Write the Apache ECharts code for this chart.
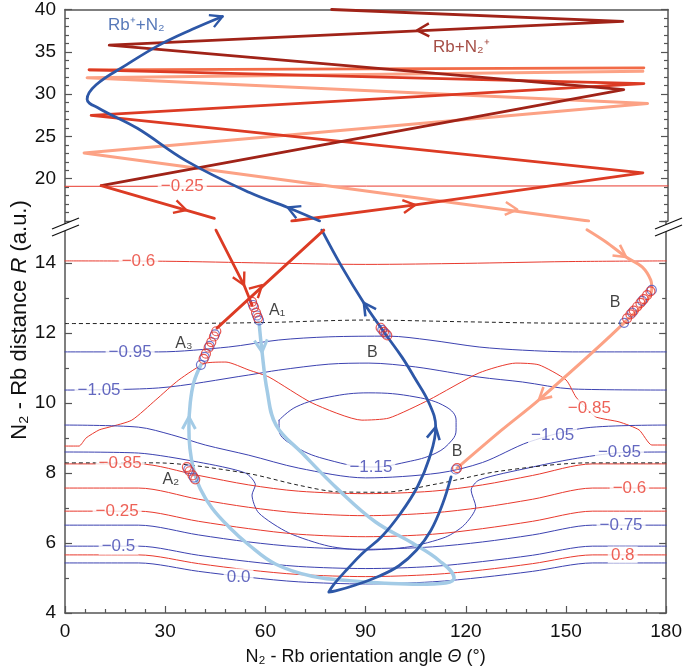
<!DOCTYPE html>
<html>
<head>
<meta charset="utf-8">
<script src="https://cdn.jsdelivr.net/npm/echarts@6/dist/echarts.min.js"></script>
<style>
  html, body { margin: 0; background: #fff; }
  #chart { width: 685px; height: 672px; }
</style>
</head>
<body>
<div id="chart"></div>
<script>
// all points are [theta (deg), R (a.u.)]

// --- trajectories, upper panel (R > 15) ---
const blueUp = [[76.0,15.0],[66.5,16.6],[55.1,18.36],[36.2,22.11],[21.6,25.96],[10.2,28.3],[6.6,29.4],[9.3,31.11],[18.3,33.45],[28.1,35.79],[38.0,37.66],[47.0,39.18]];
const maroonUp = [[79.6,40],[166.5,38.6],[13.2,35.79],[166.8,30.53],[10.8,19.18]];
const redInUp = [[10.8,19.18],[44.6,15.32]];
const redOutUp = [[67.7,15.0],[104.5,16.9],[172.5,20.7],[7.8,27.49],[172.8,31.23],[7.2,32.87]];
const orangeUp = [[7.2,32.87],[172.8,33.1]];
const salmonUp = [[172.5,32.7],[6.6,31.93],[173.9,28.89],[5.7,23.04],[156.3,15.0]];

// --- trajectories, lower panel ---
const redInLow = [[45.2,14.94],[53.6,13.37],[56.0,12.8]];
const redOutLow = [[45.5,12.14],[77.5,14.94]];
const lightBlueLow = [[58.1,12.31],[59.0,11.46],[60.5,10.37],[63.2,9.37],[71.0,8.57],[82.0,7.51],[93,6.6],[104,6.0],[112,5.5],[116.5,5.0],[114,4.86],[106,4.82],[96,4.85],[88,4.9],[74,5.05],[63,5.4],[55,5.95],[49.1,6.46],[44,7.0],[40.5,7.55],[38.5,8.1],[37.4,8.7],[37.1,9.3],[37.5,10.0],[38.6,10.6],[40.7,11.09]];
const darkBlueLow = [[115.6,7.89],[113,7.1],[109.5,6.35],[105.3,5.8],[100,5.35],[94,5.05],[87,4.8],[81,4.63],[79,4.6],[80.5,4.82],[84.5,5.25],[89,5.7],[95,6.2],[100.5,6.85],[105.5,7.6],[109,8.4],[111,9.31],[109,10.0],[104.5,10.75],[100.9,11.31],[95.5,12.03],[89.5,12.86],[82.9,13.89],[76.9,14.94]];
const salmonLow = [[156.3,14.95],[162,14.6],[168,14.17],[172.8,13.89],[175.4,13.51],[175.7,13.25],[167.4,12.29],[141.9,10.09],[130.8,9.23],[117.4,8.14]];

// --- arrow heads: [tip theta, tip R, behind theta, behind R] ---
const arrowsBlueUp = [[66.5,16.6,76.0,15.0],[47.0,39.18,38.0,37.66]];
const arrowsMaroonUp = [[105.1,37.54,124,37.8]];
const arrowsRedUp = [[36.2,16.3,10.8,19.18],[104.5,16.9,67.7,15.0]];
const arrowsSalmonUp = [[135,16.35,124,16.75]];
const arrowsRedLow = [[53.6,13.37,45.2,14.94],[59.0,13.37,45.5,12.14]];
const arrowsLightLow = [[59.0,11.46,58.1,12.31],[37.1,9.6,37.1,8.94]];
const arrowsDarkLow = [[111.0,9.31,109,8.4],[89.5,12.86,95.5,12.03]];
const arrowsSalmonLow = [[168,14.17,156.3,14.95],[141.9,10.09,167.4,12.29]];

// --- potential contours ---
const cRedUp = [[0,19.1],[180,19.15]];
const cRedTop = [[0,14.06],[30,14.05],[60,14.0],[90,13.96],[120,13.99],[150,14.04],[180,14.06]];
const cDash1 = [[0,12.27],[30,12.27],[60,12.3],[90,12.37],[120,12.32],[150,12.28],[180,12.28]];
const cBlue095a = [[0,11.46],[28,11.46],[49,11.6],[64,11.8],[79,11.89],[97,11.91],[109,11.8],[124,11.6],[137,11.51],[152,11.46],[180,11.46]];
const cBlue105a = [[0,10.37],[28,10.43],[55,10.8],[64,10.94],[79,11.11],[91,11.14],[105,11.03],[124,10.74],[137,10.6],[152,10.4],[180,10.37]];
const cRedWave = [[0,8.77],[4.2,8.77],[6.3,9.0],[10.2,9.23],[13.2,9.31],[20,9.51],[27.2,10.09],[34.1,10.66],[42.2,11.14],[48.2,11.17],[55.1,10.94],[61.1,10.74],[74,10.0],[88.9,9.51],[97,9.57],[109,10.09],[124,10.86],[135,11.14],[141.9,11.09],[150,10.66],[153,10.17],[156,9.86],[159,9.6],[165.9,9.46],[171.9,9.23],[175.7,8.8],[180,8.8]];
const cOval = [[64.1,9.51],[69.2,9.89],[79,10.17],[91,10.29],[105.1,10.17],[114.1,9.89],[117.1,9.51],[117.1,9.23],[115.9,8.94],[111.1,8.57],[102.1,8.31],[91.9,8.17],[79,8.37],[69.2,8.74],[64.1,9.23],[64.1,9.51]];
const cBlue105b = [[0,9.37],[22,9.31],[32,9.09],[42,8.8],[55,8.51],[70,8.14],[90,7.86],[112,8.0],[125,8.3],[139,8.89],[156,9.29],[180,9.37]];
const cBlue095b = [[0,8.6],[22,8.57],[40,8.31],[54,8.0],[57,7.66],[56,7.37],[58,6.86],[67,6.29],[79,5.91],[90,5.8],[103,5.89],[114,6.17],[119.5,6.51],[123,7.03],[121.6,7.51],[124,7.8],[139,8.15],[152,8.4],[166,8.58],[180,8.6]];
const cDash2 = [[0,8.29],[27,8.29],[54,8.0],[70,7.65],[82,7.46],[95,7.45],[112,7.7],[130,8.05],[157,8.29],[180,8.29]];
const cRed826 = [[0,8.26],[22,8.26],[40,7.93],[55,7.66],[70,7.48],[90,7.41],[110,7.48],[125,7.66],[140,7.93],[158,8.26],[180,8.26]];
const cRed757 = [[0,7.57],[22,7.57],[40,7.25],[55,7.02],[70,6.86],[90,6.78],[110,6.86],[125,7.02],[140,7.25],[158,7.57],[180,7.57]];
const cRed691 = [[0,6.91],[22,6.91],[40,6.62],[55,6.41],[70,6.25],[90,6.18],[110,6.25],[125,6.41],[140,6.62],[158,6.91],[180,6.91]];
const cBlue651 = [[0,6.51],[22,6.51],[40,6.23],[55,6.03],[70,5.89],[90,5.82],[110,5.89],[125,6.03],[140,6.23],[158,6.51],[180,6.51]];
const cBlue591 = [[0,5.91],[22,5.91],[40,5.65],[55,5.47],[70,5.33],[90,5.27],[110,5.33],[125,5.47],[140,5.65],[158,5.91],[180,5.91]];
const cRed566 = [[0,5.66],[22,5.66],[40,5.41],[55,5.23],[70,5.1],[90,5.04],[110,5.1],[125,5.23],[140,5.41],[158,5.66],[180,5.66]];
const cBlue543 = [[0,5.43],[22,5.43],[40,5.19],[55,5.02],[70,4.89],[90,4.83],[110,4.89],[125,5.02],[140,5.19],[158,5.43],[180,5.43]];

// contour labels [text, theta, R]
const redLabelsUp = [['−0.25',35,19.1]];
const redLabels = [['−0.6',22,14.05],['−0.85',16.5,8.27],['−0.25',15.6,6.91],['−0.85',157,9.86],['−0.6',169,7.57],['0.8',167,5.66]];
const blueLabels = [['−0.95',19.5,11.46],['−1.05',10.2,10.37],['−0.5',16,5.91],['0.0',52,5.03],['−1.15',91.6,8.17],['−1.05',146,9.08],['−0.95',166,8.58],['−0.75',166.5,6.51]];

// charge-transfer points (open circles)
const redCircles = [[41.5,11.26],[42.2,11.41],[43.0,11.58],[43.8,11.74],[44.6,11.9],[45.3,12.05],
  [56.0,12.89],[56.6,12.74],[57.2,12.58],[57.8,12.43],
  [36.5,8.17],[37.3,8.05],[38.2,7.93],[39.0,7.82],
  [94.5,12.15],[95.5,12.03],[96.5,11.93],
  [117.4,8.14],
  [168.3,12.42],[169.3,12.53],[170.3,12.64],[171.3,12.75],[172.3,12.86],[173.3,12.97],[174.3,13.08],[175.3,13.19]];
const blueCircles = [[40.7,11.09],[41.8,11.32],[43.3,11.63],[44.9,11.96],
  [56.3,12.8],[57.5,12.5],[58.1,12.36],
  [36.9,8.1],[38.6,7.87],
  [95.0,12.09],[96.0,11.98],
  [117.0,8.1],
  [167.4,12.29],[169.8,12.58],[172.8,12.92],[175.7,13.23]];

// point names [text, theta, R]
const pointNames = [['A₁',63.5,12.63],['A₃',35.6,11.71],['A₂',31.7,7.8],['B',92,11.43],['B',117.4,8.62],['B',164.7,12.86]];

const F = '"Liberation Sans", Arial, Helvetica, sans-serif';
const AXC = '#555';
const C = {
  darkBlue: '#2d57a7', lightBlue: '#a3cbe6', maroon: '#a02318', red: '#dc3b24',
  orange: '#f26b47', salmon: '#fca285', cRed: '#e8392d', cBlue: '#3c42b0'
};

function axes(g) { return g === 0 ? { xAxisIndex: 0, yAxisIndex: 0 } : { xAxisIndex: 1, yAxisIndex: 2 }; }

function line(g, data, color, width, extra) {
  return Object.assign({
    type: 'line', data: data, showSymbol: false, symbol: 'none', silent: true, z: 4,
    lineStyle: { color: color, width: width, join: 'round', cap: 'round' }
  }, axes(g), extra || {});
}

function contour(g, data, color, extra) {
  return line(g, data, color, 1, Object.assign({ smooth: 0.3, z: 2 }, extra || {}));
}

function arrows(g, data, color, width) {
  return Object.assign({
    type: 'custom', data: data, silent: true, z: 4, encode: { x: 0, y: 1 },
    renderItem: function (params, api) {
      const tip = api.coord([api.value(0), api.value(1)]);
      const back = api.coord([api.value(2), api.value(3)]);
      let dx = tip[0] - back[0], dy = tip[1] - back[1];
      const len = Math.hypot(dx, dy) || 1;
      dx /= len; dy /= len;
      const L = 12, W = 6.5;
      const bx = tip[0] - dx * L, by = tip[1] - dy * L;
      return {
        type: 'polyline',
        shape: { points: [[bx - dy * W, by + dx * W], tip, [bx + dy * W, by - dx * W]] },
        style: { stroke: color, lineWidth: width, fill: null, lineJoin: 'round' }
      };
    }
  }, axes(g));
}

function labels(g, items, color, size, bg) {
  return Object.assign({
    type: 'scatter', silent: true, z: bg ? 3 : 6, symbolSize: 1,
    itemStyle: { color: 'rgba(0,0,0,0)' },
    data: items.map(d => ({ name: d[0], value: [d[1], d[2]] })),
    label: {
      show: true, position: 'inside', formatter: '{b}', color: color,
      fontSize: size, fontFamily: F,
      backgroundColor: bg ? '#fff' : 'transparent', padding: bg ? [0, 3] : 0
    }
  }, axes(g));
}

function circles(data, color) {
  return Object.assign({
    type: 'scatter', data: data, silent: true, z: 5, symbol: 'circle', symbolSize: 9,
    itemStyle: { color: 'rgba(0,0,0,0)', borderColor: color, borderWidth: 1.2 }
  }, axes(1));
}

const tickStyle = { lineStyle: { color: AXC, width: 1.2 } };

function yAxis(grid, min, max, interval, minorSplit, pos, fmt) {
  return {
    type: 'value', gridIndex: grid, min: min, max: max, interval: interval, position: pos,
    axisLine: { show: true, lineStyle: { color: AXC, width: 1.5 } },
    axisTick: Object.assign({ show: true, inside: true, length: 7 }, tickStyle),
    minorTick: Object.assign({ show: true, splitNumber: minorSplit, length: 4 }, tickStyle),
    splitLine: { show: false }, minorSplitLine: { show: false },
    axisLabel: fmt ? { show: true, formatter: fmt, fontSize: 19, color: '#111', fontFamily: F, margin: 9 } : { show: false }
  };
}

function nameStyle(size) {
  return {
    fontSize: size, color: '#111', fontFamily: F,
    rich: { i: { fontStyle: 'italic', fontSize: size, color: '#111', fontFamily: F } }
  };
}

const chart = echarts.init(document.getElementById('chart'));
chart.setOption({
  animation: false,
  backgroundColor: '#fff',
  grid: [
    { left: 65, right: 17, top: 7, height: 214 },
    { left: 65, right: 17, top: 221, height: 392 },
    { left: 65, right: 17, top: 27, height: 586 }
  ],
  xAxis: [
    { type: 'value', gridIndex: 0, min: 0, max: 180, position: 'top',
      axisLine: { show: true, lineStyle: { color: AXC, width: 1.5 } },
      axisTick: { show: false }, axisLabel: { show: false }, splitLine: { show: false } },
    { type: 'value', gridIndex: 1, min: 0, max: 180, interval: 30, position: 'bottom',
      axisLine: { show: true, lineStyle: { color: AXC, width: 1.5 } },
      axisTick: Object.assign({ show: true, inside: true, length: 7 }, tickStyle),
      minorTick: Object.assign({ show: true, splitNumber: 5, length: 4 }, tickStyle),
      splitLine: { show: false },
      axisLabel: { fontSize: 19, color: '#111', fontFamily: F, margin: 9 },
      name: 'N₂ - Rb orientation angle {i|Θ} (°)', nameLocation: 'middle', nameGap: 35,
      nameTextStyle: nameStyle(18) },
    { type: 'value', gridIndex: 2, show: false, min: 0, max: 1 }
  ],
  yAxis: [
    yAxis(0, 15, 40, 5, 5, 'left', v => (v >= 20 ? String(v) : '')),
    yAxis(0, 15, 40, 5, 5, 'right', null),
    yAxis(1, 4, 15.2, 2, 2, 'left', v => (v <= 14 && v % 2 === 0 ? String(v) : '')),
    yAxis(1, 4, 15.2, 2, 2, 'right', null),
    { type: 'value', gridIndex: 2, min: 0, max: 1,
      axisLine: { show: false }, axisTick: { show: false }, axisLabel: { show: false }, splitLine: { show: false },
      name: 'N₂ - Rb distance {i|R} (a.u.)', nameLocation: 'middle', nameGap: 34, nameTextStyle: nameStyle(22) }
  ],
  series: [
    // contours
    contour(0, cRedUp, C.cRed, { smooth: false }),
    contour(1, cRedTop, C.cRed),
    contour(1, cBlue095a, C.cBlue),
    contour(1, cBlue105a, C.cBlue),
    contour(1, cRedWave, C.cRed, { smooth: 0.2 }),
    contour(1, cOval, C.cBlue, { smooth: 0.4 }),
    contour(1, cBlue105b, C.cBlue),
    contour(1, cBlue095b, C.cBlue, { smooth: 0.25 }),
    contour(1, cRed826, C.cRed),
    contour(1, cRed757, C.cRed),
    contour(1, cRed691, C.cRed),
    contour(1, cBlue651, C.cBlue),
    contour(1, cBlue591, C.cBlue),
    contour(1, cRed566, C.cRed),
    contour(1, cBlue543, C.cBlue),
    line(1, cDash1, '#222', 1, { smooth: 0.3, z: 2, lineStyle: { color: '#222', width: 1, type: [4, 3] } }),
    line(1, cDash2, '#222', 1, { smooth: 0.3, z: 2, lineStyle: { color: '#222', width: 1, type: [4, 3] } }),
    labels(0, redLabelsUp, C.cRed, 17, true),
    labels(1, redLabels, C.cRed, 17, true),
    labels(1, blueLabels, C.cBlue, 17, true),

    // trajectories, upper panel
    line(0, salmonUp, C.salmon, 3),
    line(0, orangeUp, C.orange, 2.8),
    line(0, redOutUp, C.red, 2.8),
    line(0, maroonUp, C.maroon, 2.8),
    line(0, redInUp, C.red, 2.8),
    line(0, blueUp, C.darkBlue, 2.8, { smooth: 0.4 }),
    arrows(0, arrowsSalmonUp, C.salmon, 2.4),
    arrows(0, arrowsRedUp, C.red, 2.4),
    arrows(0, arrowsMaroonUp, C.maroon, 2.4),
    arrows(0, arrowsBlueUp, C.darkBlue, 2.4),

    // trajectories, lower panel
    line(1, lightBlueLow, C.lightBlue, 3.5, { smooth: 0.4 }),
    line(1, salmonLow, C.salmon, 3, { smooth: 0.3 }),
    line(1, darkBlueLow, C.darkBlue, 2.8, { smooth: 0.4 }),
    line(1, redInLow, C.red, 2.8),
    line(1, redOutLow, C.red, 2.8),
    arrows(1, arrowsLightLow, C.lightBlue, 3),
    arrows(1, arrowsSalmonLow, C.salmon, 2.6),
    arrows(1, arrowsDarkLow, C.darkBlue, 2.6),
    arrows(1, arrowsRedLow, C.red, 2.4),

    circles(blueCircles, '#4a55c0'),
    circles(redCircles, '#e0302a'),
    labels(1, pointNames, '#111', 16, false),
    labels(0, [['Rb⁺+N₂', 21.3, 38.13]], C.darkBlue, 17, false),
    labels(0, [['Rb+N₂⁺', 118.3, 35.56]], '#8f2218', 17, false)
  ],
  graphic: [
    { type: 'polygon', z: 100, shape: { points: [[52, 229], [79, 218], [79, 225], [52, 236]] }, style: { fill: '#fff' } },
    { type: 'line', z: 101, shape: { x1: 52, y1: 229, x2: 79, y2: 218 }, style: { stroke: '#111', lineWidth: 1.3 } },
    { type: 'line', z: 101, shape: { x1: 52, y1: 236, x2: 79, y2: 225 }, style: { stroke: '#111', lineWidth: 1.3 } },
    { type: 'polygon', z: 100, shape: { points: [[655, 229], [682, 218], [682, 225], [655, 236]] }, style: { fill: '#fff' } },
    { type: 'line', z: 101, shape: { x1: 655, y1: 229, x2: 682, y2: 218 }, style: { stroke: '#111', lineWidth: 1.3 } },
    { type: 'line', z: 101, shape: { x1: 655, y1: 236, x2: 682, y2: 225 }, style: { stroke: '#111', lineWidth: 1.3 } }
  ]
});
</script>
</body>
</html>
